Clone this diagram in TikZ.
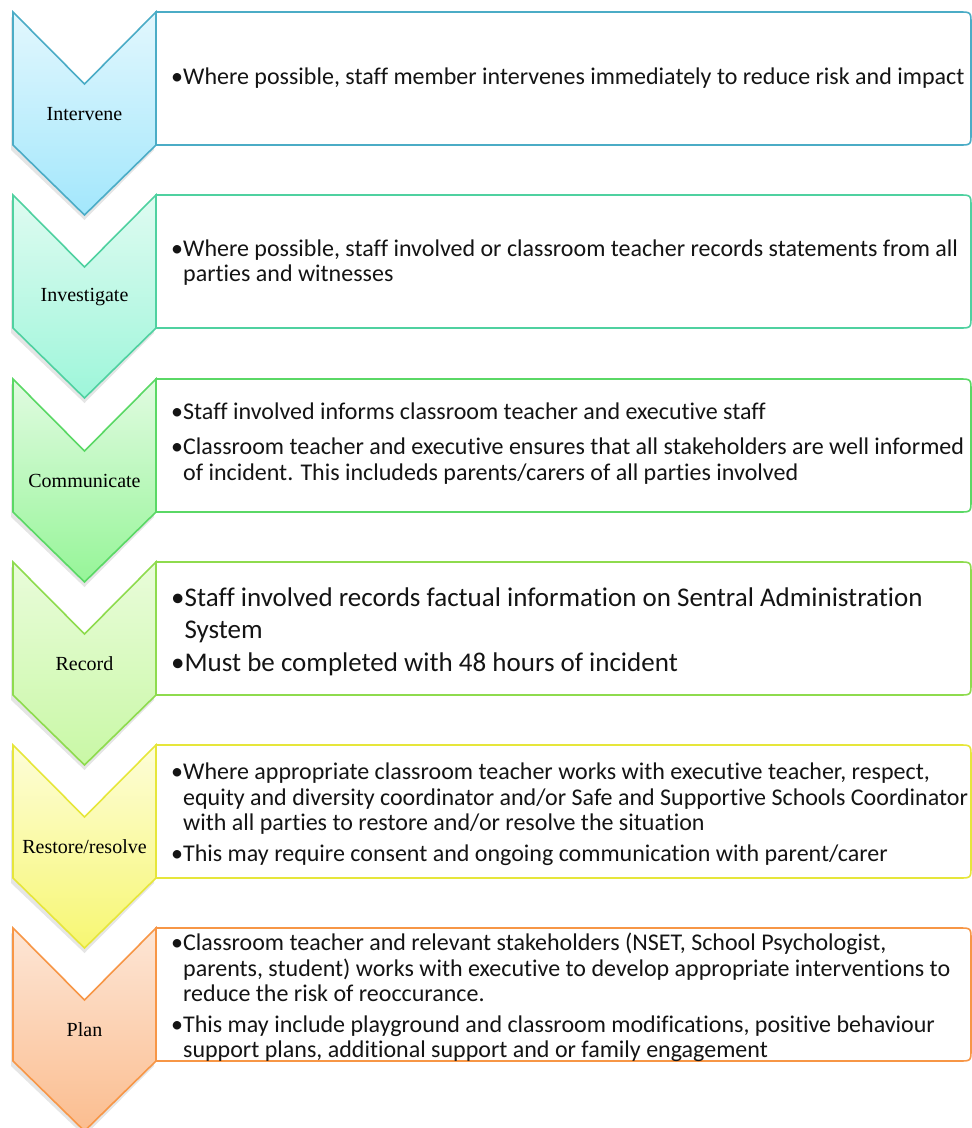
\documentclass[tikz,border=0pt]{standalone}
\usepackage{fontspec}
\setmainfont{Carlito}[Ligatures=NoCommon]
\newfontfamily\lblfont{Liberation Serif}
\definecolor{bA}{HTML}{4BACC6}\definecolor{tA}{HTML}{E2F7FD}\definecolor{uA}{HTML}{A3E7FC}
\definecolor{bB}{HTML}{4FD1A0}\definecolor{tB}{HTML}{DFFBF1}\definecolor{uB}{HTML}{9EF6DA}
\definecolor{bC}{HTML}{5AD865}\definecolor{tC}{HTML}{E1FBE1}\definecolor{uC}{HTML}{96F598}
\definecolor{bD}{HTML}{8EDB4E}\definecolor{tD}{HTML}{E9FCDA}\definecolor{uD}{HTML}{C9F8A6}
\definecolor{bE}{HTML}{E6E63A}\definecolor{tE}{HTML}{FDFDD8}\definecolor{uE}{HTML}{F7F773}
\definecolor{bF}{HTML}{F79646}\definecolor{tF}{HTML}{FDE6D6}\definecolor{uF}{HTML}{FBBD8F}
\newcommand\stagedraw[4]{%
  \fill[black,opacity=0.10] (11,#1+5) -- (84.5,#1+77) -- (154,#1+5) -- (154,#1+138) -- (84.5,#1+208) -- (11,#1+138) -- cycle;
  \draw[#2,line width=1.6pt,fill=white] (156,#1) -- (959,#1) .. controls (971,#1) .. (971,#1+12) -- (971,#1+121) .. controls (971,#1+133) .. (959,#1+133) -- (156,#1+133) -- cycle;
  \shade[top color=#3,bottom color=#4,draw=#2,line width=1.6pt,line join=miter] (13,#1) -- (84.5,#1+72) -- (156,#1) -- (156,#1+133) -- (84.5,#1+203) -- (13,#1+133) -- cycle;
}
\tikzset{
  lbl/.style={font=\lblfont\fontsize{20}{22}\selectfont,inner sep=0pt,text=black},
  txt/.style={anchor=west,align=left,inner sep=0pt,text=black!92,font=\fontsize{24}{25.5}\selectfont},
  txtbig/.style={txt,font=\fontsize{27}{32}\selectfont}
}
\begin{document}
\begin{tikzpicture}[x=1pt,y=-1pt]
\useasboundingbox (0,0) rectangle (972,1128);
\stagedraw{928}{bF}{tF}{uF}
\stagedraw{745}{bE}{tE}{uE}
\stagedraw{562}{bD}{tD}{uD}
\stagedraw{379}{bC}{tC}{uC}
\stagedraw{195}{bB}{tB}{uB}
\stagedraw{12}{bA}{tA}{uA}
\node[lbl] (l1) at (84.5,114) {Intervene};
\node[lbl] (l2) at (84.5,297) {Investigate};
\node[lbl] (l3) at (84.5,481) {Communicate};
\node[lbl] (l4) at (84.5,664) {Record};
\node[lbl] (l5) at (84.5,847) {Restore/resolve};
\node[lbl] (l6) at (84.5,1030) {Plan};
\node[txt] (t1) at (171,78.5) {•Where possible, staff member intervenes immediately to reduce risk and impact};
\node[txt] (t2) at (171,262.5) {•Where possible, staff involved or classroom teacher records statements from all\\\phantom{•}parties and witnesses};
\node[txt] (t3) at (171,443.5) {•Staff involved informs classroom teacher and executive staff\\[10pt]•Classroom teacher and executive ensures that all stakeholders are well informed\\\phantom{•}of incident. This includeds parents/carers of all parties involved};
\node[txtbig] (t4) at (171,632) {•Staff involved records factual information on Sentral Administration\\\phantom{•}System\\[1pt]•Must be completed with 48 hours of incident};
\node[txt] (t5) at (171,814) {•Where appropriate classroom teacher works with executive teacher, respect,\\\phantom{•}equity and diversity coordinator and/or Safe and Supportive Schools Coordinator\\\phantom{•}with all parties to restore and/or resolve the situation\\[5pt]•This may require consent and ongoing communication with parent/carer};
\node[txt] (t6) at (171,997.5) {•Classroom teacher and relevant stakeholders (NSET, School Psychologist,\\\phantom{•}parents, student) works with executive to develop appropriate interventions to\\\phantom{•}reduce the risk of reoccurance.\\[5pt]•This may include playground and classroom modifications, positive behaviour\\\phantom{•}support plans, additional support and or family engagement};
\end{tikzpicture}
\end{document}
